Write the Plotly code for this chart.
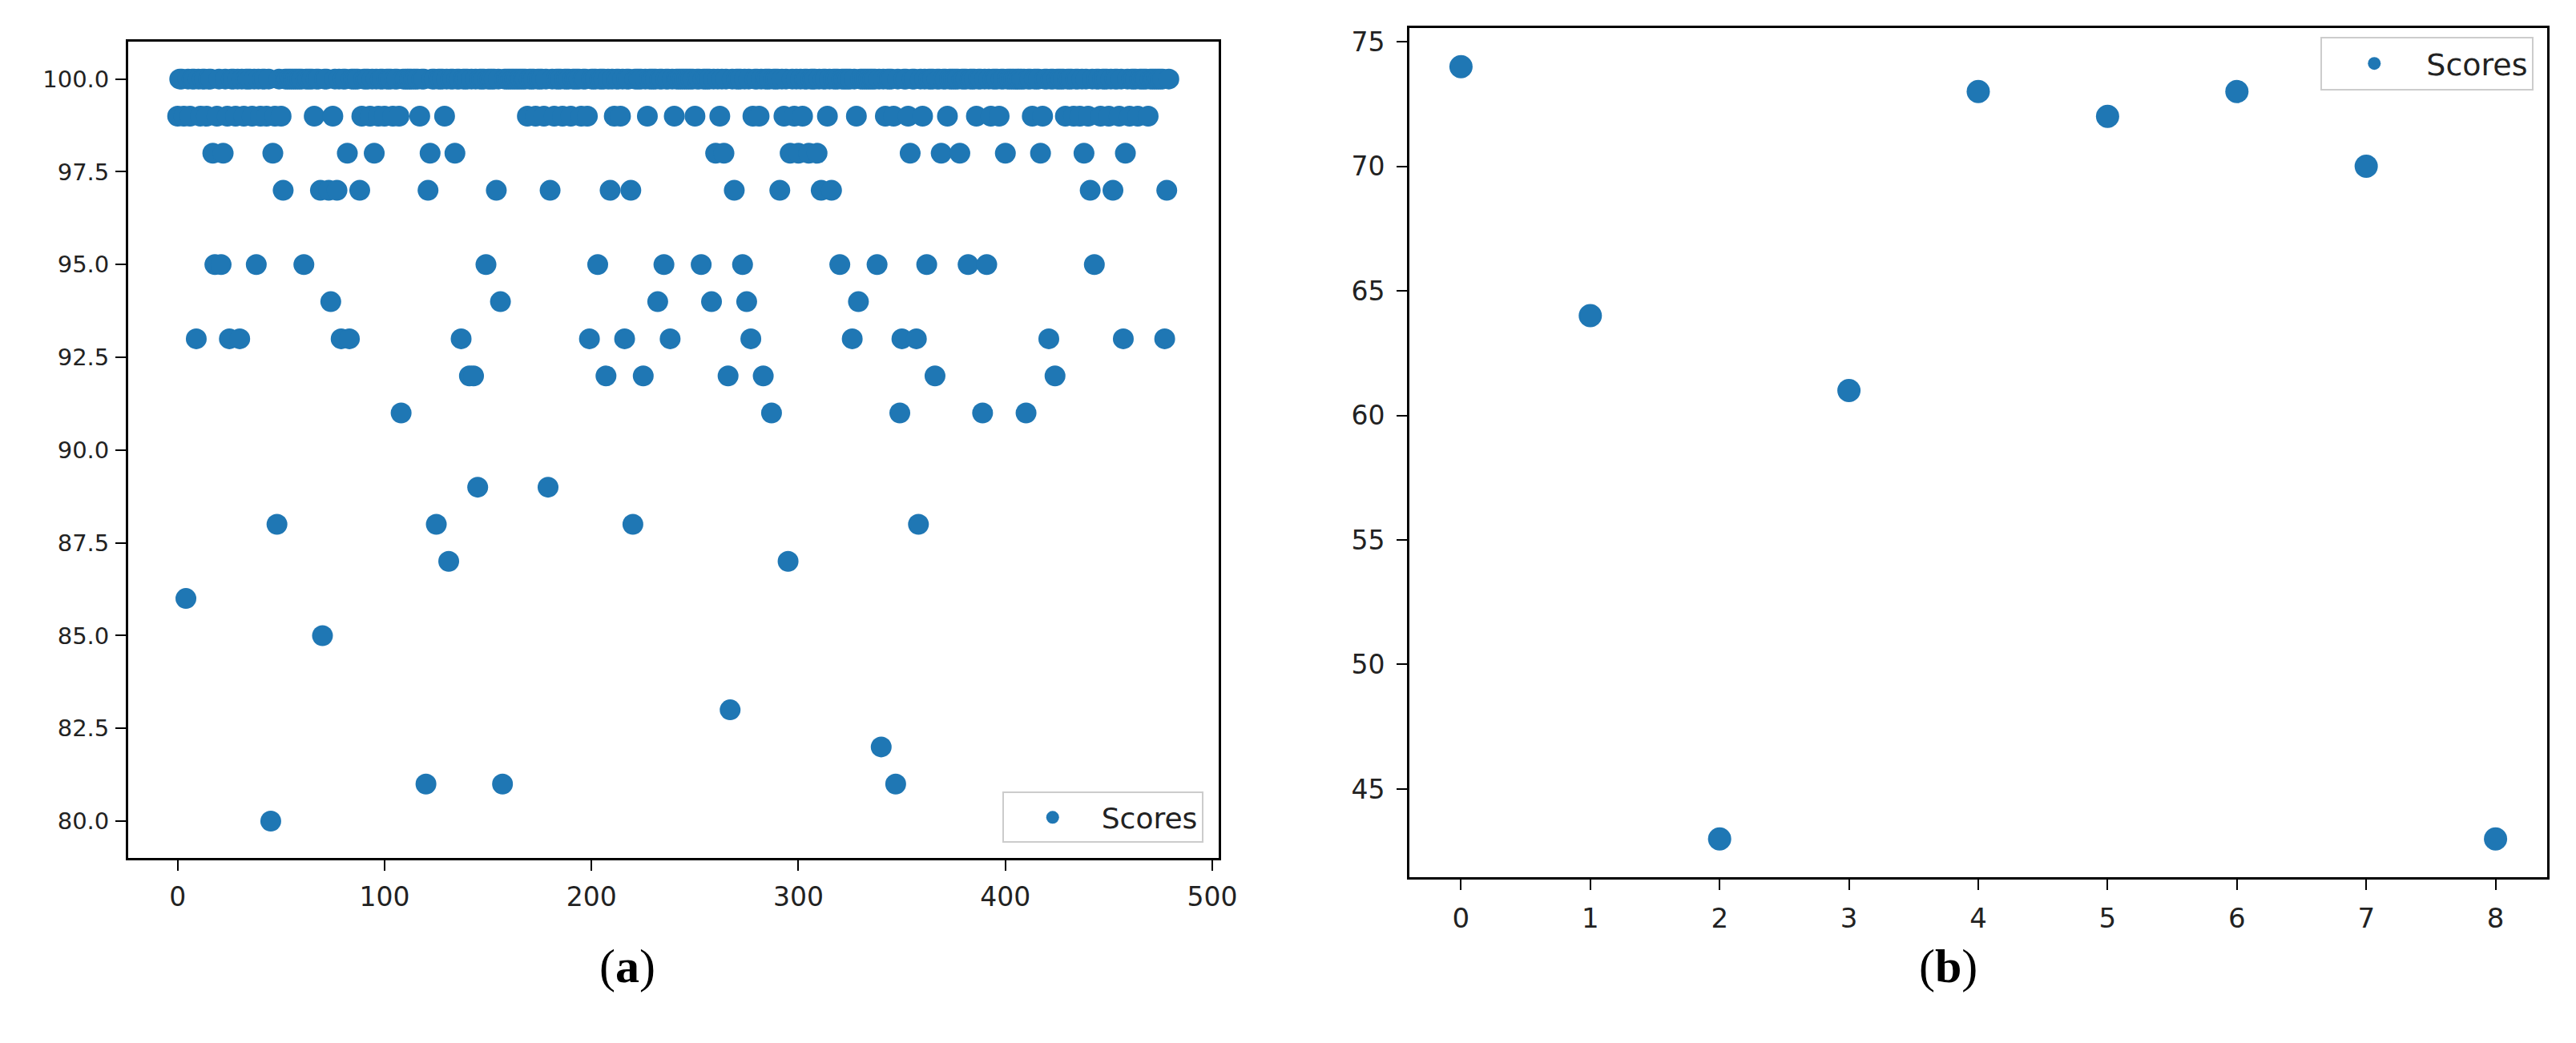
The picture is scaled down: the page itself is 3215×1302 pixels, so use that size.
import plotly.graph_objects as go

# (a) score for each run, in order (x = run index)
scores_a = [
    99, 100, 100, 99, 86, 100, 99, 100, 100, 93, 100, 99, 100, 100, 99, 100, 100, 98, 95, 99,
    100, 95, 98, 100, 99, 93, 100, 100, 99, 100, 93, 100, 99, 100, 100, 100, 99, 100, 95, 100,
    99, 100, 100, 99, 100, 80, 98, 99, 88, 100, 99, 97, 100, 100, 100, 100, 100, 100, 100, 100,
    100, 95, 100, 100, 100, 100, 99, 100, 100, 97, 85, 100, 100, 97, 94, 99, 100, 97, 100, 93,
    100, 100, 98, 93, 100, 100, 100, 100, 97, 99, 100, 100, 100, 99, 100, 98, 100, 99, 100, 100,
    99, 100, 100, 100, 99, 100, 100, 99, 91, 100, 100, 100, 100, 100, 100, 100, 100, 99, 100, 100,
    81, 97, 98, 100, 100, 88, 100, 100, 100, 99, 100, 87, 100, 100, 98, 100, 100, 93, 100, 100,
    100, 92, 100, 92, 100, 89, 100, 100, 100, 95, 100, 100, 100, 100, 97, 100, 94, 81, 100, 100,
    100, 100, 100, 100, 100, 100, 100, 100, 100, 99, 100, 100, 100, 99, 100, 100, 100, 99, 100, 89,
    97, 100, 99, 100, 100, 100, 99, 100, 100, 100, 99, 100, 100, 100, 100, 99, 100, 100, 99, 93,
    100, 100, 100, 95, 100, 100, 100, 92, 100, 97, 100, 99, 100, 100, 99, 100, 93, 100, 100, 97,
    88, 100, 100, 100, 100, 92, 100, 99, 100, 100, 100, 100, 94, 100, 100, 95, 100, 100, 93, 100,
    99, 100, 100, 100, 100, 100, 100, 100, 100, 100, 99, 100, 100, 95, 100, 100, 100, 100, 94, 100,
    98, 100, 99, 100, 98, 100, 92, 83, 100, 97, 100, 100, 100, 95, 100, 94, 100, 93, 99, 100,
    100, 99, 100, 92, 100, 100, 100, 91, 100, 100, 100, 97, 100, 99, 100, 87, 98, 100, 99, 100,
    98, 100, 99, 100, 100, 98, 100, 100, 100, 98, 100, 97, 100, 100, 99, 100, 97, 100, 100, 100,
    95, 100, 100, 100, 100, 100, 93, 100, 99, 94, 100, 100, 100, 100, 100, 100, 100, 100, 95, 100,
    82, 100, 99, 100, 100, 100, 99, 81, 100, 91, 93, 100, 100, 99, 98, 100, 100, 93, 88, 100,
    99, 100, 95, 100, 100, 100, 92, 100, 100, 98, 100, 100, 99, 100, 100, 100, 100, 100, 98, 100,
    100, 100, 95, 100, 100, 100, 99, 100, 100, 91, 100, 95, 100, 99, 100, 100, 100, 99, 100, 100,
    98, 100, 100, 100, 100, 100, 100, 100, 100, 100, 91, 100, 100, 99, 100, 100, 100, 98, 99, 100,
    100, 93, 100, 100, 92, 100, 100, 100, 100, 99, 100, 100, 100, 99, 100, 100, 99, 100, 98, 100,
    99, 97, 100, 95, 100, 100, 99, 100, 100, 100, 99, 100, 97, 100, 100, 99, 100, 93, 98, 100,
    99, 100, 100, 100, 99, 100, 100, 100, 100, 99, 100, 100, 100, 100, 100, 100, 100, 93, 97, 100,
]
runs_a = list(range(len(scores_a)))

# (b)
runs_b = [0, 1, 2, 3, 4, 5, 6, 7, 8]
scores_b = [74, 64, 43, 61, 73, 72, 73, 70, 43]

BLUE = "#1f77b4"
W, H = 3215, 1302

fig = go.Figure()
fig.add_trace(go.Scatter(x=runs_a, y=scores_a, mode="markers", name="Scores",
                         marker=dict(color=BLUE, size=26, line=dict(width=0)),
                         xaxis="x", yaxis="y", legend="legend"))
fig.add_trace(go.Scatter(x=runs_b, y=scores_b, mode="markers", name="Scores",
                         marker=dict(color=BLUE, size=29, line=dict(width=0)),
                         xaxis="x2", yaxis="y2", legend="legend2"))


def axis_style(size, standoff=0):
    return dict(showline=True, mirror=True, linecolor="black", linewidth=2.5,
                ticks="outside", ticklen=13, tickwidth=2, tickcolor="black",
                showgrid=False, zeroline=False, ticklabelstandoff=standoff,
                tickfont=dict(family="DejaVu Sans", size=size, color="#222222"))


fig.update_layout(
    width=W, height=H,
    margin=dict(l=0, r=0, t=0, b=0),
    paper_bgcolor="white", plot_bgcolor="white",
    xaxis=dict(domain=[153 / W, 1524 / W], range=[-23.95, 502.95],
               tick0=0, dtick=100, anchor="y", **axis_style(33, 4)),
    yaxis=dict(domain=[1 - 1063 / H, 1 - 42.4 / H], range=[79, 101],
               tick0=80, dtick=2.5, tickformat=".1f", anchor="x", **axis_style(29, 2)),
    xaxis2=dict(domain=[1764 / W, 3195 / W], range=[-0.4, 8.4],
                tick0=0, dtick=1, anchor="y2", **axis_style(34, 6)),
    yaxis2=dict(domain=[1 - 1087 / H, 1 - 25 / H], range=[41.45, 75.55],
                tick0=45, dtick=5, anchor="x2", **axis_style(33, 8)),
    legend=dict(x=1505 / W, y=1 - 1044 / H, xanchor="right", yanchor="bottom",
                bgcolor="white", bordercolor="#cccccc", borderwidth=2,
                itemwidth=112, font=dict(family="DejaVu Sans", size=36, color="#222222")),
    legend2=dict(x=3178 / W, y=1 - 36 / H, xanchor="right", yanchor="top",
                 bgcolor="white", bordercolor="#cccccc", borderwidth=2,
                 itemwidth=120, font=dict(family="DejaVu Sans", size=38, color="#222222")),
    showlegend=True,
)

for label, xc in [("a", 781), ("b", 2442)]:
    fig.add_annotation(text=f"(<b>{label}</b>)", x=xc / W, y=1 - 1198 / H,
                       xref="paper", yref="paper", xanchor="center", yanchor="middle",
                       showarrow=False,
                       font=dict(family="Liberation Serif", size=60, color="black"))

fig.write_html("out.html")
